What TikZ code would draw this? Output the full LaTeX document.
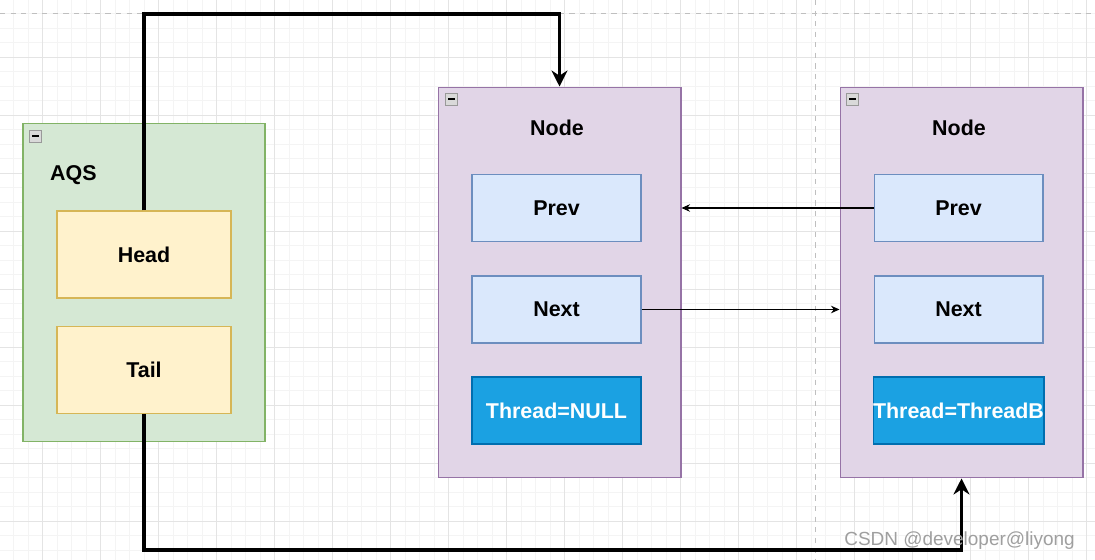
\documentclass[tikz,border=0pt]{standalone}
\usepackage{fontspec}
\setmainfont{Liberation Sans}
\usepackage{xcolor}
\definecolor{aqsgreen}{HTML}{D5E8D4}
\definecolor{aqsframe}{HTML}{82B366}
\definecolor{headyellow}{HTML}{FFF2CC}
\definecolor{headframe}{HTML}{D6B656}
\definecolor{nodepurple}{HTML}{E1D5E7}
\definecolor{nodeframe}{HTML}{9673A6}
\definecolor{fieldblue}{HTML}{DAE8FC}
\definecolor{fieldframe}{HTML}{6C8EBF}
\definecolor{threadblue}{HTML}{1BA1E2}
\definecolor{threadframe}{HTML}{006EAF}
\definecolor{gridminor}{HTML}{F4F4F4}
\definecolor{gridmajor}{HTML}{E4E4E4}
\usepackage{tikz}
\usetikzlibrary{
    arrows.meta,
    positioning,
    calc
}
\tikzstyle{container} = [
    rectangle,
    draw=nodeframe,
    fill=nodepurple,
    line width=0.6pt,
    minimum width=4.86cm,
    minimum height=7.82cm
]
\tikzstyle{aqsbox} = [
    rectangle,
    draw=aqsframe,
    fill=aqsgreen,
    line width=0.6pt,
    minimum width=4.84cm,
    minimum height=6.38cm
]
\tikzstyle{pointer} = [
    rectangle,
    draw=headframe,
    fill=headyellow,
    line width=0.6pt,
    minimum width=3.48cm,
    minimum height=1.74cm,
    font=\fontsize{12.2}{14}\selectfont\bfseries
]
\tikzstyle{field} = [
    rectangle,
    draw=fieldframe,
    fill=fieldblue,
    line width=0.6pt,
    minimum width=3.38cm,
    minimum height=1.34cm,
    font=\fontsize{12.2}{14}\selectfont\bfseries
]
\tikzstyle{threadbox} = [
    field,
    draw=threadframe,
    fill=threadblue,
    text=white,
    inner sep=0pt
]
\tikzstyle{title} = [
    font=\fontsize{12.2}{14}\selectfont\bfseries
]
\tikzstyle{collapse} = [
    rectangle,
    draw=gray!80,
    fill=gray!30,
    line width=0.5pt,
    inner sep=0pt,
    minimum size=6.8pt
]
\tikzstyle{bigarrow} = [
    -{Stealth[length=0.32cm,width=0.32cm]},
    line width=1.8pt
]
\tikzstyle{arrow} = [
    -{Stealth[length=0.17cm,width=0.15cm]},
    line width=0.6pt
]

\begin{document}
\begin{tikzpicture}[x=0.02cm, y=-0.02cm]
    \useasboundingbox (0,0) rectangle (1095,560);
    \fill[white] (0,0) rectangle (1095,560);

    % Background grid
    \foreach \gx in {13.7,28.2,...,1095} \draw[gridminor, line width=0.4pt] (\gx,0) -- (\gx,560);
    \foreach \gy in {-1,13.5,...,560} \draw[gridminor, line width=0.4pt] (0,\gy) -- (1095,\gy);
    \foreach \gx in {42.7,100.7,...,1095} \draw[gridmajor, line width=0.4pt] (\gx,0) -- (\gx,560);
    \foreach \gy in {57,115,...,560} \draw[gridmajor, line width=0.4pt] (0,\gy) -- (1095,\gy);
    \draw[gray!50, dashed, line width=0.4pt] (0,13) -- (1095,13);
    \draw[gray!50, dashed, line width=0.4pt] (815,0) -- (815,560);

    % AQS
    \node[aqsbox] (aqs) at (144,282.5) {};
    \node[collapse] (aqsicon) at (35.5,136) {\rule{3.6pt}{0.9pt}};
    \node[title, anchor=west] (aqslabel) at (44,175) {AQS};
    \node[pointer] (head) at (144,254.5) {Head};
    \node[pointer] (tail) at (144,370) {Tail};

    % First Node
    \node[container] (nodeone) at (559.5,282.5) {};
    \node[collapse] (nodeoneicon) at (451.5,99) {\rule{3.6pt}{0.9pt}};
    \node[title] (nodeonelabel) at (557,128) {Node};
    \node[field] (prevone) at (556.5,208) {Prev};
    \node[field] (nextone) at (556.5,309.5) {Next};
    \node[threadbox] (threadone) at (556.5,410.5) {Thread=NULL};

    % Second Node
    \node[container] (nodetwo) at (961.5,282.5) {};
    \node[collapse] (nodetwoicon) at (852.5,99) {\rule{3.6pt}{0.9pt}};
    \node[title] (nodetwolabel) at (959,128) {Node};
    \node[field] (prevtwo) at (958.5,208) {Prev};
    \node[field] (nexttwo) at (958.5,309.5) {Next};
    \node[threadbox] (threadtwo) at (958.5,410.5) {Thread=ThreadB};

    % Head and Tail links
    \coordinate (topbend) at (0,14);
    \coordinate (bottombend) at (0,550);
    \draw[bigarrow] (head.north) -- (head.north |- topbend) -| (nodeone.north);
    \draw[bigarrow] (tail.south) -- (tail.south |- bottombend) -| (nodetwo.south);

    % Prev and Next links
    \draw[arrow] (prevtwo.west) -- (nodeone.east |- prevtwo.west);
    \draw[arrow] (nextone.east) -- (nodetwo.west |- nextone.east);

    % Watermark
    \node[gray!75, anchor=east, font=\fontsize{10.8}{12}\selectfont] (mark) at (1081,541) {CSDN @developer@liyong};

\end{tikzpicture}
\end{document}
